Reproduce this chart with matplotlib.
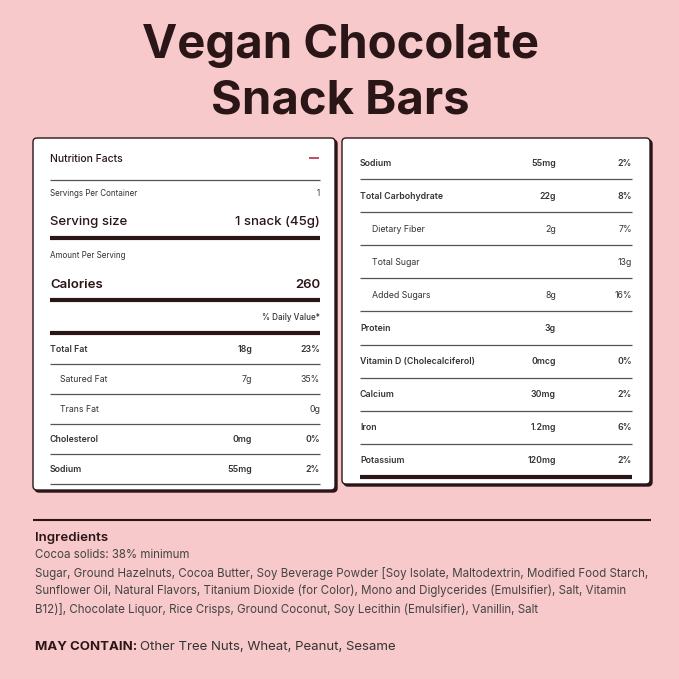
import matplotlib
matplotlib.use("Agg")
import matplotlib.pyplot as plt
from matplotlib.patches import FancyBboxPatch

title_lines = ["Vegan Chocolate", "Snack Bars"]
left_rows = [("Total Fat", "18g", "23%", True), ("Satured Fat", "7g", "35%", False),
             ("Trans Fat", "", "0g", False), ("Cholesterol", "0mg", "0%", True),
             ("Sodium", "55mg", "2%", True)]
right_rows = [("Sodium", "55mg", "2%", True), ("Total Carbohydrate", "22g", "8%", True),
              ("Dietary Fiber", "2g", "7%", False), ("Total Sugar", "", "13g", False),
              ("Added Sugars", "8g", "16%", False), ("Protein", "3g", "", True),
              ("Vitamin D (Cholecalciferol)", "0mcg", "0%", True), ("Calcium", "30mg", "2%", True),
              ("Iron", "1.2mg", "6%", True), ("Potassium", "120mg", "2%", True)]
ingredients = ["Cocoa solids: 38% minimum",
               "Sugar, Ground Hazelnuts, Cocoa Butter, Soy Beverage Powder [Soy Isolate, Maltodextrin, Modified Food Starch,",
               "Sunflower Oil, Natural Flavors, Titanium Dioxide (for Color), Mono and Diglycerides (Emulsifier), Salt, Vitamin",
               "B12)], Chocolate Liquor, Rice Crisps, Ground Coconut, Soy Lecithin (Emulsifier), Vanillin, Salt"]
may_contain = "Other Tree Nuts, Wheat, Peanut, Sesame"

PINK = "#f8c9ca"
DARK = "#2a1517"
plt.rcParams['font.family'] = ['Inter', 'DejaVu Sans']

fig = plt.figure(figsize=(6.79, 6.79), dpi=100, facecolor=PINK)
ax = fig.add_axes([0, 0, 1, 1])
ax.set_xlim(0, 679); ax.set_ylim(679, 0); ax.axis('off')

for i, t in enumerate(title_lines):
    ax.text(340, 46 + 55 * i, t, ha='center', va='center', fontsize=34, fontweight='bold', color=DARK)

def panel(x0, y0, x1, y1):
    ax.add_patch(FancyBboxPatch((x0 + 2, y0 + 2), x1 - x0, y1 - y0, boxstyle="round,pad=0,rounding_size=4",
                                fc=DARK, ec=DARK, lw=1))
    ax.add_patch(FancyBboxPatch((x0, y0), x1 - x0, y1 - y0, boxstyle="round,pad=0,rounding_size=4",
                                fc='white', ec=DARK, lw=1))

panel(33, 138, 335, 490)
panel(342, 138, 650, 484)

def hline(x0, x1, y, lw=1.0, c="#555555"):
    ax.plot([x0, x1], [y, y], color=c, lw=lw, solid_capstyle='butt')

L0, L1 = 50, 320
ax.text(L0, 159, "Nutrition Facts", fontsize=7.5, fontweight='medium', color=DARK, va='center')
hline(309, 319, 158, 1.2, "#b0304a")
hline(L0, L1, 180, 0.9)
ax.text(L0, 194, "Servings Per Container", fontsize=5.8, color='#333', va='center')
ax.text(L1, 194, "1", fontsize=5.8, color='#333', va='center', ha='right')
ax.text(L0, 222, "Serving size", fontsize=9.5, fontweight='medium', color=DARK, va='center')
ax.text(L1, 222, "1 snack (45g)", fontsize=9.5, fontweight='medium', color=DARK, va='center', ha='right')
hline(L0, L1, 238, 3, DARK)
ax.text(L0, 256, "Amount Per Serving", fontsize=5.8, color='#333', va='center')
ax.text(L0, 285, "Calories", fontsize=9.5, fontweight='semibold', color=DARK, va='center')
ax.text(L1, 285, "260", fontsize=9.5, fontweight='semibold', color=DARK, va='center', ha='right')
hline(L0, L1, 300, 3, DARK)
ax.text(L1, 318, "% Daily Value*", fontsize=5.8, fontweight='medium', color='#333', va='center', ha='right')
hline(L0, L1, 333, 3, DARK)
y = 349
for name, amt, dv, bold in left_rows:
    fw = 'semibold' if bold else 'normal'
    ax.text(L0 + (0 if bold else 10), y, name, fontsize=6.3, fontweight=fw, color='#333', va='center')
    ax.text(252, y, amt, fontsize=6.3, fontweight=fw, color='#333', va='center', ha='right')
    ax.text(L1, y, dv, fontsize=6.3, fontweight=fw, color='#333', va='center', ha='right')
    hline(L0, L1, y + 15, 0.9)
    y += 30

R0, R1 = 360, 632
y = 163
for i, (name, amt, dv, bold) in enumerate(right_rows):
    fw = 'semibold' if bold else 'normal'
    ax.text(R0 + (0 if bold else 12), y, name, fontsize=6.3, fontweight=fw, color='#333', va='center')
    ax.text(556, y, amt, fontsize=6.3, fontweight=fw, color='#333', va='center', ha='right')
    ax.text(R1, y, dv, fontsize=6.3, fontweight=fw, color='#333', va='center', ha='right')
    last = i == len(right_rows) - 1
    hline(R0, R1, y + 16, 3 if last else 0.9, DARK if last else "#555555")
    y += 33.1

hline(33, 651, 520, 1.5, DARK)
ax.text(35, 538, "Ingredients", fontsize=9.5, fontweight='semibold', color=DARK, va='center')
for i, line in enumerate(ingredients):
    ax.text(35, 555 + 18 * i, line, fontsize=8.3, color='#444', va='center')
t = ax.text(35, 647, "MAY CONTAIN: ", fontsize=9.5, fontweight='bold', color=DARK, va='center')
ax.annotate(may_contain, xycoords=t, xy=(1, 0.5), va='center', fontsize=9.5, color='#333')

fig.savefig("out.png", dpi=100, facecolor=PINK)
